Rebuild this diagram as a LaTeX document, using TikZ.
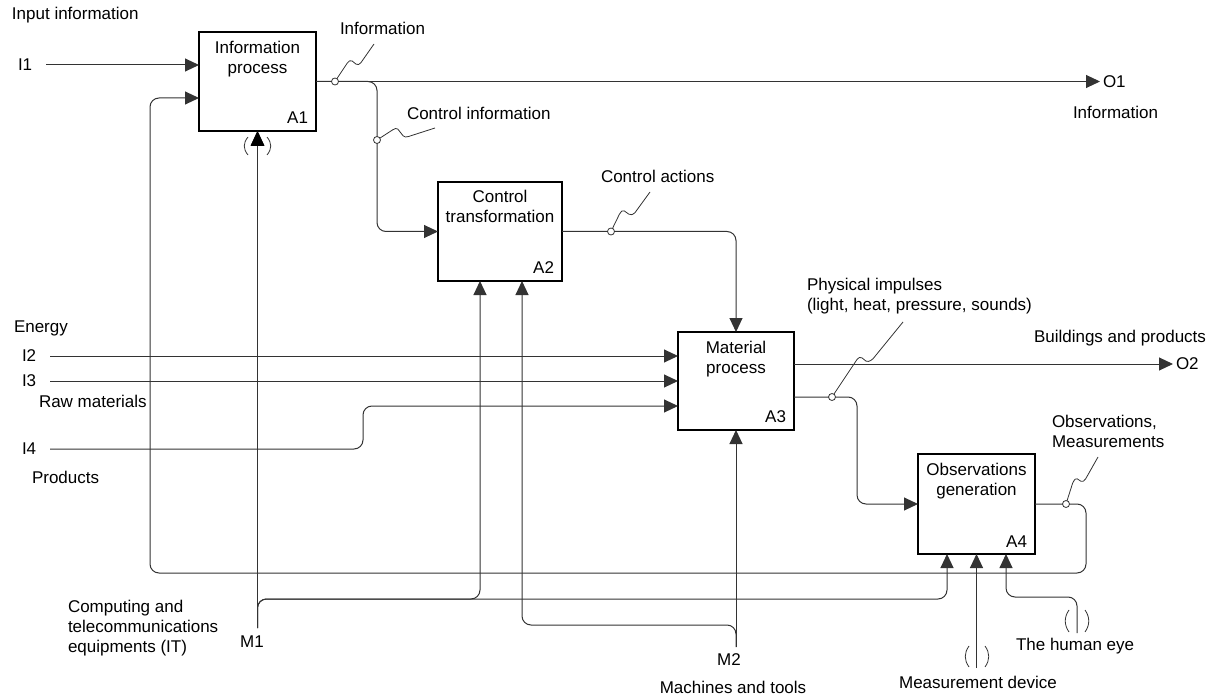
\documentclass[tikz,border=0pt]{standalone}
\usepackage{fontspec}
\setmainfont{Liberation Sans}
\usetikzlibrary{arrows.meta}
\begin{document}
\begin{tikzpicture}[x=1pt,y=-1pt,
 every node/.style={font=\fontsize{17}{20}\selectfont, inner sep=0pt, outer sep=0pt},
 fbox/.style={draw=black, line width=1.5pt, rectangle, fill=white},
 conn/.style={draw=black!80, line width=1pt, rounded corners=9pt},
 arr/.style={conn, -{Triangle[length=14pt,width=13pt]}},
 dot/.style={circle, draw=black!80, fill=white, line width=0.8pt, minimum size=7pt, inner sep=0pt},
 squig/.style={draw=black!80, line width=0.8pt, rounded corners=1.5pt},
 tun/.style={draw=black!80, line width=0.8pt},
 lbl/.style={anchor=west, align=left},
 ttl/.style={anchor=north, align=center},
 num/.style={anchor=south east},
]
\useasboundingbox (0,0) rectangle (1216,695);

% boxes
\node[fbox, minimum width=117pt, minimum height=99pt] (A1) at (257.5,81.5) {};
\node[fbox, minimum width=124pt, minimum height=99pt] (A2) at (500,231.5) {};
\node[fbox, minimum width=116pt, minimum height=98pt] (A3) at (736,381) {};
\node[fbox, minimum width=117pt, minimum height=100pt] (A4) at (976.5,504) {};
\node[ttl] (t1) at ([yshift=-9pt]A1.north) {Information\\process};
\node[ttl] (t2) at ([yshift=-8pt]A2.north) {Control\\transformation};
\node[ttl] (t3) at ([yshift=-9pt]A3.north) {Material\\process};
\node[ttl] (t4) at ([yshift=-9pt]A4.north) {Observations\\generation};
\node[num] (n1) at ([xshift=-8pt,yshift=7pt]A1.south east) {A1};
\node[num] (n2) at ([xshift=-8pt,yshift=7pt]A2.south east) {A2};
\node[num] (n3) at ([xshift=-8pt,yshift=7pt]A3.south east) {A3};
\node[num] (n4) at ([xshift=-8pt,yshift=7pt]A4.south east) {A4};

% labels
\node[lbl] (inp) at (12,15) {Input information};
\node[lbl] (I1) at (18,65) {I1};
\node[lbl] (infoT) at (340,28) {Information};
\node[lbl] (ctlI) at (407,113) {Control information};
\node[lbl] (ctlA) at (601,176) {Control actions};
\node[lbl] (O1) at (1103,81.5) {O1};
\node[lbl] (infoR) at (1073,112) {Information};
\node[lbl] (energy) at (14,328) {Energy};
\node[lbl] (I2) at (22,356) {I2};
\node[lbl] (I3) at (22,381) {I3};
\node[lbl] (raw) at (39,401) {Raw materials};
\node[lbl] (I4) at (22,449) {I4};
\node[lbl] (prod) at (32,477) {Products};
\node[lbl] (phys) at (807,296.5) {Physical impulses\\(light, heat, pressure, sounds)};
\node[lbl] (build) at (1034,338) {Buildings and products};
\node[lbl] (O2) at (1176,364) {O2};
\node[lbl] (obs) at (1052,431.5) {Observations,\\Measurements};
\node[lbl] (comp) at (68,628) {Computing and\\telecommunications\\equipments (IT)};
\node (lM1) at (252,642) {M1};
\node (lM2) at (729,660) {M2};
\node (mach) at (733,687) {Machines and tools};
\node (meas) at (978,682) {Measurement device};
\node[lbl] (eye) at (1016,646) {The human eye};

% coordinates
\coordinate (mA) at (257.5,628);
\coordinate (mAb) at (257.5,599);
\coordinate (mB) at (736,647);
\coordinate (mBb) at (736,625);
\coordinate (cb) at (377,81.5);
\coordinate (i4b) at (363,449);
\coordinate (p3) at (857,397);
\coordinate (fb1) at (1086,573);
\coordinate (fb2) at (150,573);
\coordinate (md) at (976.5,668);
\coordinate (he) at (1077,633);
\coordinate (heb) at (1077,597);
\coordinate (A2c1) at (480,281);
\coordinate (A2c2) at (522,281);
\coordinate (A4c1) at (947,554);
\coordinate (A4c3) at (1006,554);

% tunnels
\draw[tun] (248,137) .. controls (243,143) and (243,149) .. (248,155);
\draw[tun] (267,137) .. controls (272,143) and (272,149) .. (267,155);
\draw[tun] (969,646) .. controls (964,653) and (964,660) .. (969,667);
\draw[tun] (985,646) .. controls (990,653) and (990,660) .. (985,667);
\draw[tun] (1069,610) .. controls (1064,617) and (1064,625) .. (1069,632);
\draw[tun] (1085,610) .. controls (1090,617) and (1090,625) .. (1085,632);

% connectors
\draw[arr] ([xshift=14pt]I1.east) -- ([yshift=16.5pt]A1.west);
\draw[arr] (A4.east) -- (fb1 |- A4.east) -- (fb1) -- (fb2) -- (fb2 |- 0,98) -- ([yshift=-16.5pt]A1.west);
\draw[arr] (A1.east) -- ([xshift=-3pt]O1.west);
\draw[arr] (A1.east) -- (cb) -- (cb |- A2.west) -- (A2.west);
\draw[arr] (A2.east) -- (A2.east -| A3.north) -- (A3.north);
\draw[arr] ([xshift=14pt]I2.east) -- ([yshift=25pt]A3.west);
\draw[arr] ([xshift=14pt]I3.east) -- (A3.west);
\draw[arr] ([xshift=14pt]I4.east) -- (i4b) -- (i4b |- 0,406) -- ([yshift=-25pt]A3.west);
\draw[arr] ([yshift=17pt]A3.east) -- ([xshift=-3pt]O2.west);
\draw[arr] ([yshift=-16pt]A3.east) -- (p3) -- (p3 |- A4.west) -- (A4.west);
\draw[arr] (mA) -- (mAb) -- (mAb -| A4c1) -- (A4c1);
\draw[arr] (mA) -- (mAb) -- (mAb -| A2c1) -- (A2c1);
\draw[arr] (mA) -- (A1.south);
\draw[arr] (mB) -- (mBb) -- (mBb -| A2c2) -- (A2c2);
\draw[arr] (mB) -- (A3.south);
\draw[arr] (md) -- (A4.south);
\draw[arr] (he) -- (heb) -- (heb -| A4c3) -- (A4c3);

% squiggles
\draw[squig] (335,81.5) -- (348,62) -- (351,60) -- (357,65) -- (360,64) -- (374,44);
\draw[squig] (377,140) -- (394,129) -- (397,128) -- (404,137) -- (407,137) -- (435,128);
\draw[squig] (611,231.5) -- (620,213) -- (623,210) -- (630,215) -- (634,214) -- (650,192);
\draw[squig] (832,397) -- (858,358) -- (861,357) -- (867,362) -- (872,360) -- (903,322);
\draw[squig] (1066,504) -- (1073,482) -- (1076,478) -- (1082,482) -- (1085,480) -- (1098,457);

% dots
\node[dot] (c1) at (335,81.5) {};
\node[dot] (c2) at (377,140) {};
\node[dot] (c3) at (611,231.5) {};
\node[dot] (c4) at (832,397) {};
\node[dot] (c5) at (1066,504) {};

% tunnel arrowhead at A1 (explicit)
\fill[black] (257.5,131) -- (250.5,146) -- (264.5,146) -- cycle;
\end{tikzpicture}
\end{document}
